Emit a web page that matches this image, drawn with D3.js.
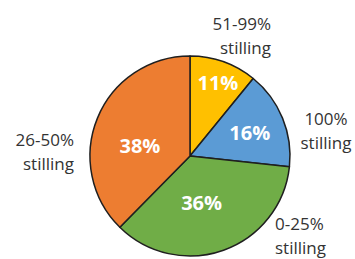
<!DOCTYPE html>
<html><head><meta charset="utf-8">
<script src="https://cdn.jsdelivr.net/npm/d3@7"></script>
<style>html,body{margin:0;padding:0;background:#fff;}svg{display:block;}</style>
</head><body>
<script>
const categories = ["51-99%", "100%", "0-25%", "26-50%"];
const categorySuffix = ["stilling", "stilling", "stilling", "stilling"];
const values = [11, 16, 36, 38];
const valueLabels = ["11%", "16%", "36%", "38%"];
const colors = ["#FFC000", "#5B9BD5", "#70AD47", "#ED7D31"];

const W = 355, H = 259;
const cx = 190, cy = 156, R = 100;
// label placement (radius, angle deg) for inner labels
const innerPos = [[78, 21], [64, 69], [48, 166], [51, 281]];
// outer category label anchors [x, first baseline, anchor]
const outerPos = [[271, 30, "end"], [326, 125, "middle"], [275, 230, "start"], [74, 146, "end"]];

const svg = d3.select("body").append("svg").attr("width", W).attr("height", H);
const g = svg.append("g").attr("transform", `translate(${cx},${cy})`);

const pie = d3.pie().sort(null).value(d => d)(values);
const arc = d3.arc().innerRadius(0).outerRadius(R);

g.selectAll("path").data(pie).enter().append("path")
  .attr("d", arc)
  .attr("fill", (d, i) => colors[i])
  .attr("stroke", "#1f1f1f")
  .attr("stroke-width", 1.5)
  .attr("stroke-linejoin", "round");

g.selectAll("text.v").data(pie).enter().append("text")
  .attr("class", "v")
  .attr("x", (d, i) => innerPos[i][0] * Math.sin(innerPos[i][1] * Math.PI / 180))
  .attr("y", (d, i) => -innerPos[i][0] * Math.cos(innerPos[i][1] * Math.PI / 180))
  .attr("dy", "0.35em")
  .attr("text-anchor", "middle")
  .attr("font-family", "'Open Sans', sans-serif")
  .attr("font-weight", "bold")
  .attr("font-size", 20)
  .attr("fill", "#fff")
  .text((d, i) => valueLabels[i]);

categories.forEach((c, i) => {
  const t = svg.append("text")
    .attr("x", outerPos[i][0]).attr("y", outerPos[i][1])
    .attr("text-anchor", outerPos[i][2])
    .attr("font-family", "'Open Sans', sans-serif")
    .attr("font-size", 17)
    .attr("fill", "#333");
  t.append("tspan").attr("x", outerPos[i][0]).attr("dy", 0).text(c);
  t.append("tspan").attr("x", outerPos[i][0]).attr("dy", 23.5).text(categorySuffix[i]);
});
</script>
</body></html>
